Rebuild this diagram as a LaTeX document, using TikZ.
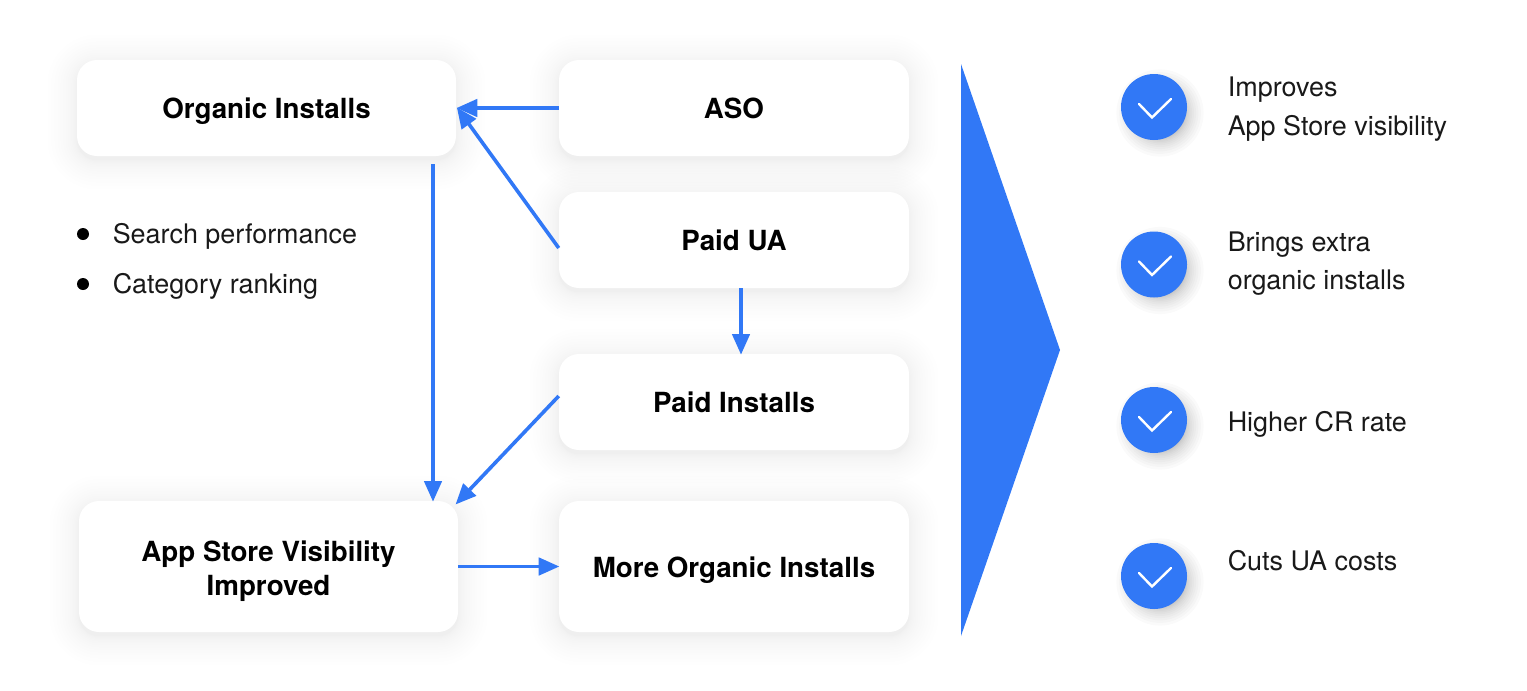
\documentclass[tikz,border=0pt]{standalone}
\usepackage{fontspec}
\setmainfont{TeX Gyre Heros}
\usetikzlibrary{arrows.meta,calc}
\definecolor{brandblue}{HTML}{3178F6}
\newcommand{\softshadow}[4]{%
  \foreach \i in {1,...,16}{%
    \pgfmathsetmacro{\grow}{0.115*\i*\i}
    \fill[black,opacity=0.005,rounded corners={(20+\grow)*0.75pt}]
      ({#1-\grow},{#2-\grow+4}) rectangle ({#3+\grow},{#4+\grow+4});
  }}
\newcommand{\circshadow}[2]{%
  \foreach \i in {1,...,14}{%
    \pgfmathsetmacro{\grow}{24+0.1*\i*\i}
    \fill[black,opacity=0.02] ({#1+6},{#2+6}) circle[radius={\grow*0.75pt}];
  }}
\tikzset{
  box/.style={fill=white,rounded corners=15pt,inner sep=0pt,align=center,
    text height=16pt,text depth=0pt,
    font=\fontsize{20.8}{25.5}\selectfont\bfseries},
  twoline/.style={text height=42.8pt},
  link/.style={brandblue,line width=2.7pt,-{Triangle[length=15.5pt,width=13pt]},shorten >=-0.5pt},
  dot/.style={circle,fill=brandblue,minimum size=49.5pt,inner sep=0pt},
  tick/.style={white,line width=1.8pt,line cap=round,line join=miter},
  note/.style={anchor=base west,inner sep=0pt,font=\fontsize{20.2}{24}\selectfont,text=black!90},
  bullet/.style={circle,fill=black,minimum size=9pt,inner sep=0pt}
}
\begin{document}
\begin{tikzpicture}[x=0.75pt,y=-0.75pt]
\useasboundingbox[fill=white] (0,0) rectangle (1527,690);
\softshadow{77}{60}{456}{156}
\softshadow{559}{60}{909}{156}
\softshadow{559}{192}{909}{288}
\softshadow{559}{354}{909}{450}
\softshadow{79}{501}{458}{632}
\softshadow{559}{501}{909}{632}
\circshadow{1154}{107}
\circshadow{1154}{264.5}
\circshadow{1154}{420}
\circshadow{1154}{576}

\node[box,minimum width=284.25pt,minimum height=72pt] (org) at (266.5,108) {Organic Installs};
\node[box,minimum width=262.5pt,minimum height=72pt] (aso) at (734,108) {ASO};
\node[box,minimum width=262.5pt,minimum height=72pt] (ua) at (734,240) {Paid UA};
\node[box,minimum width=262.5pt,minimum height=72pt] (paid) at (734,402) {Paid Installs};
\node[box,twoline,minimum width=284.25pt,minimum height=98.25pt] (vis) at (268.5,566.5) {App Store Visibility\\Improved};
\node[box,minimum width=262.5pt,minimum height=98.25pt] (more) at (734,566.5) {More Organic Installs};

\coordinate (uaout) at ($(ua.west)+(0,8)$);
\coordinate (orgin) at ($(org.east)+(1,0)$);
\coordinate (orgdown) at (433,164);
\coordinate (visup) at (433,501);
\coordinate (uadown) at (741,288);
\coordinate (paidup) at (741,354);
\coordinate (paidout) at ($(paid.west)+(0,-6)$);
\coordinate (visin) at (456,504);

\draw[link] (aso.west) -- (orgin);
\draw[link] (uaout) -- (orgin);
\draw[link] (orgdown) -- (visup);
\draw[link] (uadown) -- (paidup);
\draw[link] (paidout) -- (visin);
\draw[link] (vis.east) -- (more.west);

\node[bullet] (b1) at (83,234) {};
\node[bullet] (b2) at (83,284) {};
\node[note] (t1) at (112.5,243) {Search performance};
\node[note] (t2) at (112.5,293) {Category ranking};

\fill[brandblue] (961,64) -- (1060,350) -- (961,636) -- cycle;

\foreach \n/\cy in {c1/107,c2/264.5,c3/420,c4/576}{
  \node[dot] (\n) at (1154,\cy) {};
  \draw[tick] ($(\n)+(-15,-3)$) -- ($(\n)+(-2,10.5)$) -- ($(\n)+(17,-8)$);
}

\node[note] (r1) at (1227.5,96.5) {Improves};
\node[note] (r2) at (1227.5,135) {App Store visibility};
\node[note] (r3) at (1227.5,251) {Brings extra};
\node[note] (r4) at (1227.5,289) {organic installs};
\node[note] (r5) at (1227.5,431) {Higher CR rate};
\node[note] (r6) at (1227.5,570) {Cuts UA costs};
\end{tikzpicture}
\end{document}
